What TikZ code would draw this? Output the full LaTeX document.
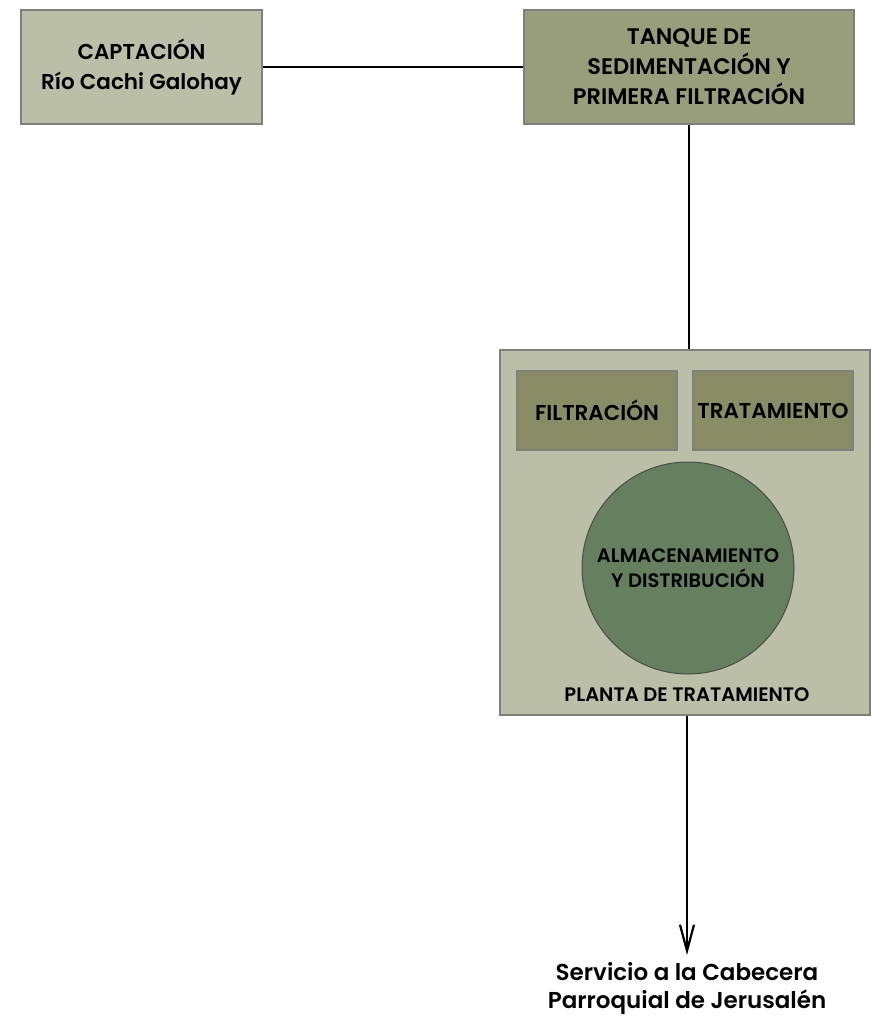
\documentclass[tikz,border=0pt]{standalone}
\usepackage{fontspec}
\setmainfont{Poppins}[BoldFont={* SemiBold}]
\usetikzlibrary{arrows.meta}
\definecolor{lightbox}{HTML}{BCBFA7}
\definecolor{tankbox}{HTML}{999E7A}
\definecolor{innerbox}{HTML}{898C64}
\definecolor{circfill}{HTML}{667F5E}
\definecolor{edgegray}{HTML}{7F7F7F}
\begin{document}
\begin{tikzpicture}[x=1pt,y=-1pt,
  boxstyle/.style={draw=edgegray,line width=1.5pt,inner sep=0pt,align=center,font=\bfseries},
  conn/.style={line width=1.8pt,black}]
\useasboundingbox (0,0) rectangle (870,1019);
% boxes
\node[boxstyle,fill=lightbox,minimum width=241pt,minimum height=114pt,
  font=\bfseries\fontsize{21.5}{30}\selectfont] (capt) at (141.5,67)
  {CAPTACIÓN\\Río Cachi Galohay};
\node[boxstyle,fill=tankbox,minimum width=330pt,minimum height=114pt,
  font=\bfseries\fontsize{22.5}{30}\selectfont] (tank) at (689,67)
  {TANQUE DE\\SEDIMENTACIÓN Y\\PRIMERA FILTRACIÓN};
\node[boxstyle,fill=lightbox,minimum width=370pt,minimum height=365pt] (plant) at (685,532.5) {};
\node[boxstyle,fill=innerbox,minimum width=160pt,minimum height=79pt,
  font=\bfseries\fontsize{21.5}{26}\selectfont] (filt) at (597,410.5) {FILTRACIÓN};
\node[boxstyle,fill=innerbox,minimum width=160pt,minimum height=79pt,
  font=\bfseries\fontsize{21.5}{26}\selectfont] (trat) at (773,410.5) {TRATAMIENTO};
\node[circle,draw=black!70,line width=1pt,fill=circfill,minimum size=212pt,inner sep=0pt,align=center,
  font=\bfseries\fontsize{19.5}{25}\selectfont] (alm) at (688,568)
  {ALMACENAMIENTO\\Y DISTRIBUCIÓN};
\node[font=\bfseries\fontsize{19.5}{24}\selectfont] (plabel) at (687,695) {PLANTA DE TRATAMIENTO};
\node[align=center,inner sep=0pt,font=\bfseries\fontsize{23}{28}\selectfont] (serv) at (687,989)
  {Servicio a la Cabecera\\Parroquial de Jerusalén};
% connectors
\draw[conn] (capt.east) -- (tank.west);
\draw[conn] (tank.south -| plant.north) ++(4,0) coordinate (tb) -- (tb |- plant.north);
\coordinate (pb) at ([xshift=2pt]plant.south);
\coordinate (atip) at (687,955);
\draw[conn,-{Straight Barb[length=26pt,width=14pt,line width=2.2pt]}] (pb) -- (atip);
\end{tikzpicture}
\end{document}
